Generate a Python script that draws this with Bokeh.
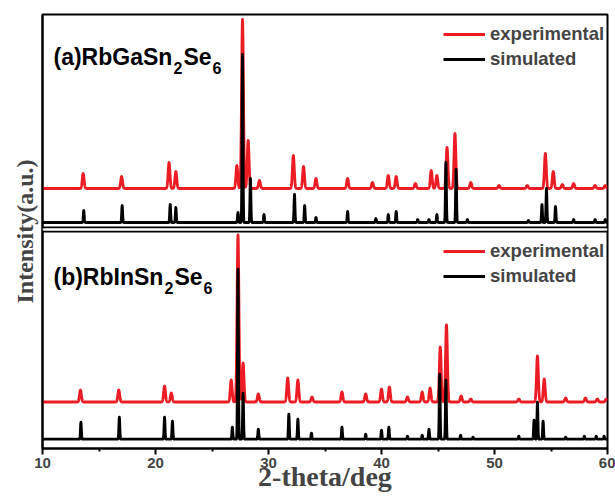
import numpy as np
from bokeh.plotting import figure
from bokeh.models import Range1d, Span, Label, Legend, LegendItem, FixedTicker
from bokeh.embed import file_html
from bokeh.resources import INLINE

# ---- peak lists (2-theta in deg, intensity in a.u.) ----
# (a) RbGaSn2Se6, measured pattern
ga_exp_pos = [13.6, 17.0, 21.2, 21.8, 27.2, 27.7, 28.2, 29.2, 32.2, 33.1, 34.2, 37.0,
              39.2, 40.6, 41.3, 43.0, 44.4, 44.9, 45.8, 46.5, 47.9, 50.4, 52.9, 54.5,
              55.2, 56.0, 57.0, 58.9, 59.8]
ga_exp_int = [15, 12, 26, 17, 23, 169, 48, 8, 33, 22, 10, 10,
              6, 13, 12, 5, 18, 13, 41, 55, 6, 3, 3, 35,
              17, 4, 5, 3, 3]
# (a) RbGaSn2Se6, calculated pattern
ga_sim_pos = [13.65, 17.05, 21.3, 21.8, 27.3, 27.7, 28.4, 29.6, 32.3, 33.2, 34.2, 37.0,
              39.5, 40.6, 41.3, 43.2, 44.2, 44.9, 45.7, 46.6, 47.6, 53.0, 54.2, 54.6,
              55.4, 57.0, 58.9, 59.8]
ga_sim_int = [12, 17, 18, 15, 10, 168, 44, 8, 28, 17, 5, 11,
              4, 8, 11, 3, 3, 8, 60, 53, 3, 2, 18, 34,
              16, 3, 3, 3]
# (b) RbInSn2Se6, measured pattern
in_exp_pos = [13.36, 16.75, 20.8, 21.4, 26.7, 27.3, 27.75, 29.1, 31.7, 32.6, 33.85, 36.5,
              38.6, 40.0, 40.7, 42.3, 43.6, 44.3, 45.2, 45.75, 47.05, 47.9, 52.15, 53.8,
              54.4, 56.3, 58.05, 59.1, 59.9]
in_exp_int = [12, 12, 16, 9, 22, 167, 39, 8, 24, 22, 5, 10,
              8, 13, 15, 5, 10, 14, 55, 77, 6, 3, 3, 46,
              23, 4, 4, 3, 3]
# (b) RbInSn2Se6, calculated pattern
in_sim_pos = [13.4, 16.8, 20.8, 21.5, 26.8, 27.3, 27.75, 29.1, 31.8, 32.6, 33.8, 36.5,
              38.6, 40.0, 40.65, 42.3, 43.6, 44.2, 45.15, 45.7, 47.0, 48.1, 52.15, 53.5,
              53.8, 54.3, 56.3, 57.95, 59.0, 59.7]
in_sim_int = [17, 22, 22, 18, 12, 170, 46, 10, 25, 20, 6, 12,
              5, 9, 12, 3, 4, 10, 65, 59, 4, 2, 3, 19,
              37, 18, 2, 3, 3, 3]

x_ticks = [10, 20, 30, 40, 50, 60]
x_minor = [15, 25, 35, 45, 55]

# stacking offsets of the four traces (a.u.)
GA_EXP_BASE, GA_SIM_BASE = 260.0, 226.0
IN_EXP_BASE, IN_SIM_BASE = 46.5, 9.3

two_theta = np.arange(10.0, 60.0001, 0.01)


def profile(pos, inten, width):
    """Sum of Gaussian peak shapes on the 2-theta grid."""
    y = np.zeros_like(two_theta)
    for c, h in zip(pos, inten):
        y += h * np.exp(-0.5 * ((two_theta - c) / width) ** 2)
    return y


RED = "#ec1c24"
BLACK = "#000000"

p = figure(width=615, height=496, output_backend="svg", toolbar_location=None,
           x_range=Range1d(10, 60), y_range=Range1d(0, 434),
           min_border_left=42, min_border_right=8, min_border_top=14,
           min_border_bottom=48)
p.background_fill_color = "white"
p.border_fill_color = "white"
p.grid.visible = False
p.outline_line_color = "black"
p.outline_line_width = 2

traces = {}
for key, pos, inten, base, width, color, lw in [
    ("ga_exp", ga_exp_pos, ga_exp_int, GA_EXP_BASE, 0.08, RED, 2.8),
    ("ga_sim", ga_sim_pos, ga_sim_int, GA_SIM_BASE, 0.04, BLACK, 2.8),
    ("in_exp", in_exp_pos, in_exp_int, IN_EXP_BASE, 0.08, RED, 2.8),
    ("in_sim", in_sim_pos, in_sim_int, IN_SIM_BASE, 0.04, BLACK, 2.8),
]:
    y = base + profile(pos, inten, width)
    traces[key] = p.line(two_theta, y, line_color=color, line_width=lw,
                         line_join="round")

# separation between the two panels
for loc in (221, 217):
    p.add_layout(Span(location=loc, dimension="width", line_color="black",
                      line_width=2))
p.add_layout(Span(location=219, dimension="width", line_color="white",
                  line_width=2))

# x axis
p.xaxis.ticker = FixedTicker(ticks=x_ticks, minor_ticks=x_minor)
p.xaxis.axis_label = "2-theta/deg"
p.xaxis.axis_label_text_font = "Liberation Serif"
p.xaxis.axis_label_text_font_style = "bold"
p.xaxis.axis_label_text_font_size = "28px"
p.xaxis.axis_label_standoff = -10
p.xaxis.major_label_text_font = "Liberation Sans"
p.xaxis.major_label_text_font_style = "bold"
p.xaxis.major_label_text_font_size = "15px"
p.xaxis.major_label_standoff = 3
p.xaxis.axis_line_width = 2
p.xaxis.major_tick_line_width = 2
p.xaxis.minor_tick_line_width = 2
p.xaxis.major_tick_in = 0
p.xaxis.major_tick_out = 6
p.xaxis.minor_tick_in = 0
p.xaxis.minor_tick_out = 3

# y axis: title only
p.yaxis.ticker = FixedTicker(ticks=[])
p.yaxis.axis_label = "Intensity(a.u.)"
p.yaxis.axis_label_text_font = "Liberation Serif"
p.yaxis.axis_label_text_font_style = "bold"
p.yaxis.axis_label_text_font_size = "24px"
p.yaxis.axis_label_standoff = 5
p.yaxis.axis_line_width = 2
p.yaxis.major_tick_line_color = None
p.yaxis.minor_tick_line_color = None

# panel titles with subscripts (y = vertical centre of each piece)
title_font = dict(text_font="Liberation Sans", text_font_style="bold",
                  text_color="black", text_baseline="middle")
for parts, y_main, y_sub in [
    ([("(a)RbGaSn", 11, "23px"), ("2", 131, "16px"),
      ("Se", 141, "23px"), ("6", 170, "16px")], 392, 381),
    ([("(b)RbInSn", 11, "23px"), ("2", 122, "16px"),
      ("Se", 132, "23px"), ("6", 161, "16px")], 172, 161),
]:
    for txt, dx, size in parts:
        y = y_main if size == "23px" else y_sub
        p.add_layout(Label(x=10, y=y, x_offset=dx, text=txt,
                           text_font_size=size, **title_font))

# legends for each panel
for exp_key, sim_key, ly in [("ga_exp", "ga_sim", 378), ("in_exp", "in_sim", 161)]:
    leg = Legend(items=[LegendItem(label="experimental", renderers=[traces[exp_key]]),
                        LegendItem(label="simulated", renderers=[traces[sim_key]])],
                 location=(401, ly), margin=0, padding=0, spacing=3,
                 glyph_width=42, glyph_height=20, label_height=20,
                 label_standoff=5, border_line_color=None,
                 background_fill_alpha=0,
                 label_text_font="Liberation Sans",
                 label_text_font_style="bold",
                 label_text_font_size="18.5px")
    p.add_layout(leg)

open("out.html", "w").write(file_html(p, INLINE))
